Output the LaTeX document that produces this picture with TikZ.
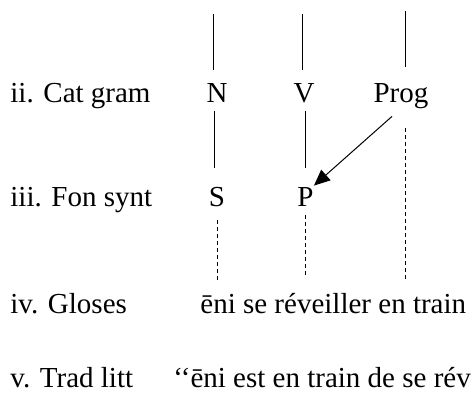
\documentclass[tikz,border=0pt]{standalone}
\usepackage{fontspec}
\setmainfont{Liberation Serif}
\usetikzlibrary{arrows.meta}

\begin{document}
\begin{tikzpicture}[x=0.5pt, y=-0.5pt,
    font=\fontsize{14.5pt}{17pt}\selectfont,
    word/.style={inner sep=0pt, text height=10pt, text depth=3pt, anchor=base},
    row/.style={inner sep=0pt, text height=10pt, text depth=3pt, anchor=base west},
    link/.style={line width=0.5pt},
    trace/.style={line width=0.5pt, dash pattern=on 2pt off 1.5pt},
    move/.style={line width=0.5pt, -{Triangle[length=8pt,width=7pt]}}]
  \useasboundingbox (0,0) rectangle (471,392);

  % Row labels
  \node[row] (cat) at (10,102) {ii. Cat gram};
  \node[row] (fon) at (10,206) {iii. Fon synt};
  \node[row] (glo) at (10,313) {iv. Gloses};
  \node[row] (trad) at (10,387) {v. Trad litt};

  % Grammatical categories
  \node[word] (N) at (217,102) {N};
  \node[word] (V) at (304,102) {V};
  \node[word] (Prog) at (401,102) {Prog};

  % Syntactic functions
  \node[word] (S) at (217,206) {S};
  \node[word] (P) at (305.5,206) {P};

  % Glosses and translation
  \node[row] (gloss) at (200,313) {ēni se réveiller en train};
  \node[row] (lit) at (173,387) {‘‘ēni est en train de se rév};

  % Lines from the row above
  \coordinate (topN) at (213,14);
  \coordinate (topV) at (302,14);
  \coordinate (topProg) at (405,11);
  \draw[link, shorten >=6pt] (topN) -- (topN |- N.north);
  \draw[link, shorten >=6pt] (topV) -- (topV |- V.north);
  \draw[link, shorten >=7.5pt] (topProg) -- (topProg |- Prog.north);

  % Categories to functions
  \draw[link, shorten <=1.5pt, shorten >=9pt] ([xshift=-1.5pt]N.south) -- ([xshift=-1.5pt]S.north);
  \draw[link, shorten <=1.5pt, shorten >=9pt] (P.north |- V.south) -- (P.north);
  \draw[move, shorten <=6pt] (Prog.south) -- (P.north east);

  % Traces down to the glosses
  \draw[trace, shorten <=4pt, shorten >=6.5pt] (S.south) -- (S.south |- gloss.north);
  \draw[trace, shorten <=1.5pt, shorten >=9pt] (P.south) -- (P.south |- gloss.north);
  \draw[trace, shorten <=10pt, shorten >=6.5pt] ([xshift=2pt]Prog.south) -- ([xshift=2pt]Prog.south |- gloss.north);
\end{tikzpicture}
\end{document}
